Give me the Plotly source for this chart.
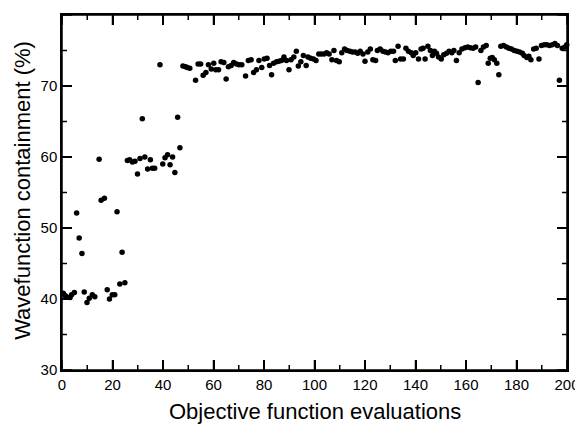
import plotly.graph_objects as go

# Objective function evaluation index
evaluations = [
    0.5, 1.2, 1.8, 3.2, 3.8, 4.9, 5.8, 6.8, 7.9, 8.8, 9.9, 10.8, 12.0, 13.0,
    14.7, 15.5, 16.8, 17.9, 18.8, 19.9, 20.9, 21.8, 22.9, 23.8, 24.9, 25.9,
    26.8, 27.9, 28.9, 29.9, 30.9, 31.8, 32.8, 33.9, 35.0, 35.8, 36.7, 38.8,
    39.9, 40.8, 41.8, 42.8, 43.8, 44.7, 45.8, 46.7, 47.9,
    48.9, 49.6, 50.6, 52.9, 53.9, 54.9, 55.9, 57.0, 58.0, 59.1, 60.1, 60.9,
    62.0, 63.0, 64.1, 65.0, 65.9, 67.0, 68.0, 69.1, 70.1, 71.2, 72.7, 73.8,
    74.9, 75.9, 77.0, 78.0, 79.1, 80.1, 81.2, 82.2, 83.0, 83.8,
    85.0, 85.9, 86.9, 87.9, 88.9, 89.9, 90.7, 91.8, 92.8, 93.6, 94.6, 95.6,
    96.7, 97.4, 98.5, 99.6, 100.6, 101.7, 102.7, 103.8, 104.8, 105.8, 106.9,
    107.7, 108.7, 109.8, 110.8, 111.9, 112.9, 114.0, 115.0, 116.1, 117.1,
    118.1, 119.2, 120.0,
    121.1, 122.1, 123.1, 124.2, 124.9, 126.0, 127.1, 128.1, 129.1, 130.2,
    131.3, 132.0, 133.1, 134.1, 135.2, 136.2, 137.2, 138.3, 139.1, 140.1,
    141.2, 142.2, 143.0, 143.8, 144.9, 145.9, 146.7, 147.5, 148.3, 149.1,
    150.2, 151.2, 152.3, 153.3, 154.4, 155.2, 156.2, 157.3, 158.4,
    159.6, 160.7, 161.7, 162.8, 163.8, 164.8, 165.9, 166.9, 168.0, 168.8,
    169.6, 170.4, 171.2, 172.2, 173.0, 173.8, 174.9, 176.0, 177.0, 178.0,
    179.1, 180.2, 181.2, 182.3, 183.0, 184.1, 184.9, 185.7, 186.8, 187.8,
    188.9, 189.9, 191.0, 192.0, 193.1, 194.2, 195.2, 196.2, 197.0, 198.1,
    199.2, 199.9,
]

# Wavefunction containment (%)
containment = [
    40.8, 40.5, 40.3, 40.2, 40.6, 40.9, 52.1, 48.6, 46.4, 41.0, 39.5, 40.1, 40.6, 40.3,
    59.7, 53.9, 54.2, 41.3, 40.0, 40.6, 40.6, 52.3, 42.1, 46.6, 42.3, 59.5,
    59.6, 59.3, 59.4, 57.6, 59.8, 65.4, 60.0, 58.3, 59.6, 58.4, 58.4, 73.0,
    59.0, 59.9, 60.3, 58.9, 60.0, 57.8, 65.6, 61.3, 72.8,
    72.7, 72.6, 72.5, 70.8, 73.1, 73.1, 71.5, 71.9, 73.0, 72.4, 73.2, 72.3,
    72.3, 73.4, 73.3, 71.0, 72.7, 72.9, 73.3, 73.1, 73.0, 73.0, 71.4, 73.6,
    73.7, 71.9, 72.3, 73.6, 72.6, 73.8, 73.9, 72.9, 71.6, 73.2,
    73.4, 73.5, 73.6, 74.1, 73.6, 72.3, 73.7, 74.1, 74.9, 72.8, 73.4, 74.3,
    72.9, 74.1, 73.9, 73.8, 73.6, 74.5, 74.5, 74.5, 74.7, 74.5, 73.7,
    75.0, 73.6, 73.4, 74.7, 75.2, 75.0, 74.9, 74.8, 74.8, 74.6,
    74.9, 74.5, 73.5,
    74.8, 75.2, 73.7, 73.6, 75.0, 75.2, 74.9, 74.8, 74.7, 74.9,
    74.9, 73.6, 75.6, 73.8, 73.8, 75.3, 74.9, 74.7, 74.3, 74.7,
    73.8, 75.2, 75.3, 73.8, 75.6, 75.0, 74.3, 74.9, 74.6, 74.1,
    73.8, 74.4, 74.6, 74.9, 74.7, 75.0, 73.6, 74.7, 75.2,
    75.4, 75.5, 75.4, 75.3, 75.5, 70.5, 75.0, 75.5, 75.7, 73.2,
    73.9, 74.0, 73.7, 73.2, 71.6, 75.6, 75.7, 75.5, 75.3, 75.2,
    75.0, 74.9, 74.8, 74.6, 74.3, 74.0, 74.2, 73.7, 75.2, 75.3,
    73.8, 75.7, 75.8, 75.8, 75.7, 75.8, 76.0, 75.7, 70.8, 75.3,
    75.5, 75.8,
]

x_major = [0, 20, 40, 60, 80, 100, 120, 140, 160, 180, 200]
x_minor = [10, 30, 50, 70, 90, 110, 130, 150, 170, 190]
y_major = [30, 40, 50, 60, 70, 80]
y_minor = [35, 45, 55, 65, 75]

x_title = "Objective function evaluations"
y_title = "Wavefunction containment (%)"

FONT = "Liberation Sans, Arial, Helvetica, sans-serif"

fig = go.Figure()
fig.add_scatter(
    x=evaluations,
    y=containment,
    mode="markers",
    marker=dict(color="black", size=5.5, line=dict(width=0)),
    showlegend=False,
    cliponaxis=False,
)

axis_style = dict(
    showline=True,
    linecolor="black",
    linewidth=1.5,
    mirror="ticks",
    ticks="inside",
    ticklen=10,
    tickwidth=1.5,
    tickcolor="black",
    showgrid=False,
    zeroline=False,
    automargin=False,
    tickfont=dict(family=FONT, size=15, color="black"),
)

fig.update_xaxes(range=[0, 200], tickvals=x_major, **axis_style)
fig.update_yaxes(range=[30, 80], tickvals=y_major, **axis_style)

# frame and inward ticks on all four sides, placed through the axes
tick_line = dict(color="black", width=1.5)
fig.add_shape(type="rect", xref="paper", yref="paper", x0=0, x1=1, y0=0, y1=1,
              line=tick_line, layer="above")
for vals, length in ((x_major, 10), (x_minor, 5)):
    for v in vals:
        fig.add_shape(type="line", xref="x", yref="paper", ysizemode="pixel", yanchor=0,
                      x0=v, x1=v, y0=0, y1=length, line=tick_line, layer="above")
        fig.add_shape(type="line", xref="x", yref="paper", ysizemode="pixel", yanchor=1,
                      x0=v, x1=v, y0=0, y1=-length, line=tick_line, layer="above")
for vals, length in ((y_major, 10), (y_minor, 5)):
    for v in vals:
        fig.add_shape(type="line", xref="paper", yref="y", xsizemode="pixel", xanchor=0,
                      x0=0, x1=length, y0=v, y1=v, line=tick_line, layer="above")
        fig.add_shape(type="line", xref="paper", yref="y", xsizemode="pixel", xanchor=1,
                      x0=0, x1=-length, y0=v, y1=v, line=tick_line, layer="above")

fig.add_annotation(
    text=x_title, xref="paper", yref="paper", x=0.5, y=-0.118,
    xanchor="center", yanchor="middle", showarrow=False,
    font=dict(family=FONT, size=22, color="black"),
)
fig.add_annotation(
    text=y_title, xref="paper", yref="paper", x=-0.077, y=0.505,
    xanchor="center", yanchor="middle", textangle=-90, showarrow=False,
    font=dict(family=FONT, size=22, color="black"),
)

# the page body adds an 8px margin, so the figure is sized to fit the window
fig.update_layout(
    width=575,
    height=417,
    plot_bgcolor="white",
    paper_bgcolor="white",
    margin=dict(l=54, r=16, t=7, b=55),
    font=dict(family=FONT, color="black"),
)

fig.write_html("out.html")
